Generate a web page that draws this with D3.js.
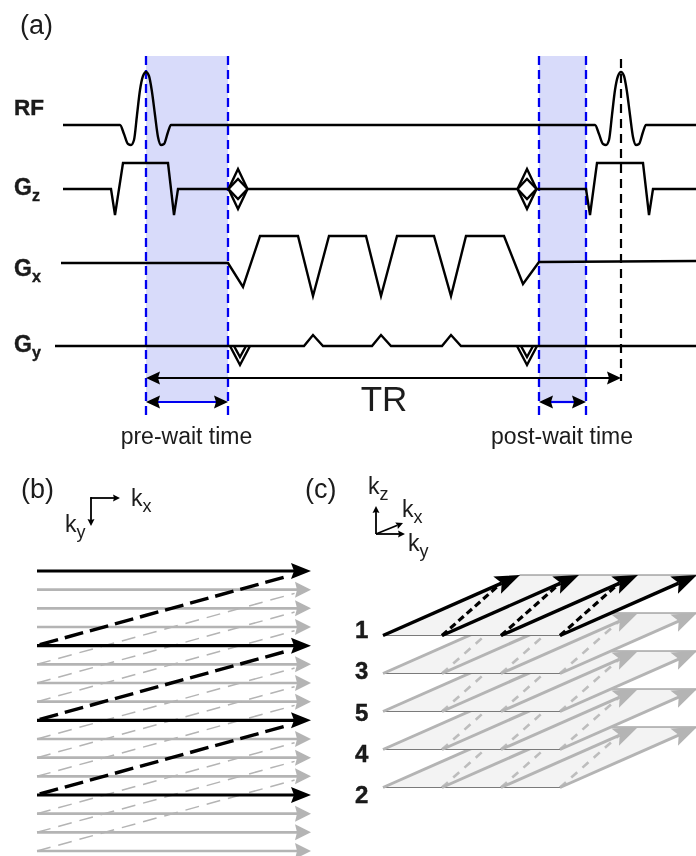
<!DOCTYPE html>
<html>
<head>
<meta charset="utf-8">
<script src="https://cdn.jsdelivr.net/npm/d3@7"></script>
<style>
  html, body { margin: 0; padding: 0; background: #fff; }
  text { font-family: "Liberation Sans", Arial, sans-serif; fill: #1a1a1a; }
</style>
</head>
<body>
<div id="chart"></div>
<script>
// --- Pulse sequence (a): time is counted from the first RF centre, amplitude upward from baseline
const channels = ["RF", "Gz", "Gx", "Gy"];
const rfCentres = [0, 475];
const rfShapeT = [-26, -22, -18, -15, -12, -9, -6, -3, 0, 3, 6, 9, 12, 15, 18, 22, 25];
const rfShapeA = [0, -9, -19, -20, -15, 10, 35, 49, 53, 49, 33, 10, -12, -20, -19, -7, 0];
const rfExtent = [-83, 550];

const gzT = [-83, -35, -31, -23, 22, 28, 32, 83];
const gzA = [0, 0, -26, 26, 26, -26, 0, 0];
const gzMidT = [102, 371];
const gzMidA = [0, 0];
const gzEndT = [391, 440, 444, 451, 497, 503, 507, 550];
const gzEndA = [0, 0, -26, 26, 26, -26, 0, 0];
const gzBlipCentres = [92, 381];
const gzBlipAmps = [20, 10];

const gxT = [-85, 82, 97, 114, 152, 167, 183, 220, 235, 251, 288, 305, 320, 358, 377, 393, 550];
const gxA = [0, 0, -24, 27, 27, -33, 27, 27, -33, 27, 27, -33, 27, 27, -21, 1, 2];

const gyT = [-91, 158, 167, 177, 226, 235, 245, 296, 305, 315, 550];
const gyA = [0, 0, 11, 0, 0, 11, 0, 0, 11, 0, 0];
const gyBlipCentres = [94, 381];
const gyBlipAmps = [-19, -11];

const waitWindows = [[0, 82], [393, 440]];
const waitLabels = ["pre-wait time", "post-wait time"];
const trRange = [0, 475];

// --- EPI readout (b)
const kyLines = [0, 1, 2, 3, 4, 5, 6, 7, 8, 9, 10, 11, 12, 13, 14, 15];
const shotStarts = [0, 4, 8, 12];
const returnFrom = [4, 5, 6, 7, 8, 9, 10, 11, 12, 13, 14, 15];
const returnStep = 4;

// --- Stack of slices (c)
const sliceOrder = [1, 3, 5, 4, 2];
const kyPositions = [0, 1, 2, 3];

const zip = (t, a) => t.map((v, i) => [v, a[i]]);
const black = "#000", gray = "#b4b4b4", blue = "#0000f0";

const svg = d3.select("#chart").append("svg")
  .attr("width", 696).attr("height", 856)
  .style("display", "block");

// the picture is a slightly soft scan, same softness here
svg.append("defs").append("filter").attr("id", "soft")
  .append("feGaussianBlur").attr("stdDeviation", 0.4);
const root = svg.append("g").attr("filter", "url(#soft)");

// scales
const x = d3.scaleLinear().domain([-146, 550]).range([0, 696]);
const baseline = d3.scaleOrdinal().domain(channels).range([125, 189, 263, 346]);
const line = ch => d3.line().x(d => x(d[0])).y(d => baseline(ch) - d[1]);

// arrow head with a small notch, tip at (x1,y1), pointing away from (x0,y0)
function head(g, x0, y0, x1, y1, len, hw, notch, color) {
  const a = Math.atan2(y1 - y0, x1 - x0), c = Math.cos(a), s = Math.sin(a);
  const p = (u, v) => [x1 + u * c - v * s, y1 + u * s + v * c];
  g.append("path")
    .attr("d", "M" + [p(0, 0), p(-len, hw), p(-len + notch, 0), p(-len, -hw)].join("L") + "Z")
    .attr("fill", color);
}

function arrow(g, x0, y0, x1, y1, width, color, len, hw, notch, headColor) {
  const a = Math.atan2(y1 - y0, x1 - x0);
  g.append("line")
    .attr("x1", x0).attr("y1", y0)
    .attr("x2", x1 - (len - notch) * Math.cos(a)).attr("y2", y1 - (len - notch) * Math.sin(a))
    .attr("stroke", color).attr("stroke-width", width);
  head(g, x0, y0, x1, y1, len, hw, notch, headColor || color);
}

function label(x0, y0, main, sub, size, subSize, weight) {
  const t = root.append("text").attr("x", x0).attr("y", y0)
    .attr("font-size", size).attr("font-weight", weight || "normal").text(main);
  if (weight) t.attr("stroke", "#1a1a1a").attr("stroke-width", 0.4);
  if (sub) t.append("tspan").attr("dy", size * 0.24).attr("font-size", subSize).text(sub);
  return t;
}

// ---------- panel (a)
const a = root.append("g");
const bandTop = 56, bandBottom = 402, dashBottom = 417;

waitWindows.forEach(w => {
  a.append("rect")
    .attr("x", x(w[0])).attr("y", bandTop)
    .attr("width", x(w[1]) - x(w[0])).attr("height", bandBottom - bandTop)
    .attr("fill", "#d8dbfa");
  w.forEach(t => {
    a.append("line")
      .attr("x1", x(t)).attr("x2", x(t)).attr("y1", bandTop).attr("y2", dashBottom)
      .attr("stroke", blue).attr("stroke-width", 2.3).attr("stroke-dasharray", "9 5");
  });
});

const traceStyle = s => s.attr("fill", "none").attr("stroke", black)
  .attr("stroke-width", 2.4).attr("stroke-linejoin", "miter");

// RF
const rfPts = [[rfExtent[0], 0]];
rfCentres.forEach(c => rfShapeT.forEach((t, i) => rfPts.push([c + t, rfShapeA[i]])));
rfPts.push([rfExtent[1], 0]);
a.append("path").attr("d", line("RF").curve(d3.curveMonotoneX)(rfPts)).call(traceStyle);

// Gz
[zip(gzT, gzA), zip(gzMidT, gzMidA), zip(gzEndT, gzEndA)].forEach(seg => {
  a.append("path").attr("d", line("Gz")(seg)).call(traceStyle);
});
gzBlipCentres.forEach(c => {
  gzBlipAmps.forEach(amp => {
    a.append("path")
      .attr("d", line("Gz")([[c - 9.5, 0], [c, amp], [c + 9.5, 0], [c, -amp], [c - 9.5, 0]]))
      .call(traceStyle);
  });
});

// Gx
a.append("path").attr("d", line("Gx")(zip(gxT, gxA))).call(traceStyle);

// Gy
a.append("path").attr("d", line("Gy")(zip(gyT, gyA))).call(traceStyle);
gyBlipCentres.forEach(c => {
  gyBlipAmps.forEach((amp, i) => {
    const hw = i === 0 ? 10 : 6;
    a.append("path")
      .attr("d", line("Gy")([[c - hw, 0], [c, amp], [c + hw, 0]]))
      .call(traceStyle);
  });
});

// next RF marker and TR arrow
a.append("line")
  .attr("x1", x(trRange[1])).attr("x2", x(trRange[1])).attr("y1", 59).attr("y2", 381)
  .attr("stroke", black).attr("stroke-width", 2.2).attr("stroke-dasharray", "9 6");

const trY = 378;
a.append("line").attr("x1", x(trRange[0]) + 8).attr("x2", x(trRange[1]) - 8)
  .attr("y1", trY).attr("y2", trY).attr("stroke", black).attr("stroke-width", 2.2);
head(a, x(trRange[1]), trY, x(trRange[0]), trY, 14, 6.5, 2, black);
head(a, x(trRange[0]), trY, x(trRange[1]), trY, 14, 6.5, 2, black);

waitWindows.forEach(w => {
  const y0 = 402;
  a.append("line").attr("x1", x(w[0]) + 8).attr("x2", x(w[1]) - 8)
    .attr("y1", y0).attr("y2", y0).attr("stroke", blue).attr("stroke-width", 2.2);
  head(a, x(w[1]), y0, x(w[0]), y0, 14, 6.5, 2, black);
  head(a, x(w[0]), y0, x(w[1]), y0, 14, 6.5, 2, black);
});

label(20, 34, "(a)", null, 27);
label(14, 115, "RF", null, 22.5, 0, "bold");
label(14, 195, "G", "z", 23, 16, "bold");
label(14, 276, "G", "x", 23, 16, "bold");
label(14, 352, "G", "y", 23, 16, "bold");

root.append("text").attr("x", 384).attr("y", 411).attr("text-anchor", "middle")
  .attr("font-size", 35).text("TR");
root.append("text").attr("x", 186.5).attr("y", 444).attr("text-anchor", "middle")
  .attr("font-size", 23).text(waitLabels[0]);
root.append("text").attr("x", 562).attr("y", 444).attr("text-anchor", "middle")
  .attr("font-size", 23).text(waitLabels[1]);

// ---------- panel (b)
const b = root.append("g");
label(21, 498, "(b)", null, 27);
arrow(b, 91, 498, 120, 498, 1.8, black, 7, 3.5, 1);
arrow(b, 91, 498, 91, 526, 1.8, black, 7, 3.5, 1);
b.append("line").attr("x1", 90.1).attr("x2", 92).attr("y1", 498).attr("y2", 498).attr("stroke", black).attr("stroke-width", 1.8);
label(131, 506, "k", "x", 23, 18);
label(65, 532, "k", "y", 23, 18);

const kx = d3.scaleLinear().domain([0, 1]).range([37, 311]);
const ky = d3.scaleLinear().domain([0, 15]).range([571, 851]);
const isStart = i => shotStarts.includes(i);

// grey lines first, black ones on top
const lineOrder = kyLines.slice().sort((p, q) => isStart(p) - isStart(q));
lineOrder.filter(i => !isStart(i)).forEach(i => {
  arrow(b, kx(0), ky(i), kx(1), ky(i), 2.6, gray, 16, 8, 2);
});
returnFrom.filter(i => !isStart(i)).forEach(i => {
  b.append("line")
    .attr("x1", kx(0)).attr("y1", ky(i))
    .attr("x2", kx(0.94)).attr("y2", ky(i - returnStep + 0.2))
    .attr("stroke", gray).attr("stroke-width", 1.5).attr("stroke-dasharray", "14 8");
});
lineOrder.filter(isStart).forEach(i => {
  arrow(b, kx(0), ky(i), kx(1), ky(i), 3.2, black, 20, 8, 3);
});
returnFrom.filter(isStart).forEach(i => {
  b.append("line")
    .attr("x1", kx(0.01)).attr("y1", ky(i) - 1)
    .attr("x2", kx(0.905)).attr("y2", ky(i - returnStep + 0.32))
    .attr("stroke", black).attr("stroke-width", 3.4).attr("stroke-dasharray", "19 7");
});

// ---------- panel (c)
const c = root.append("g");
label(305, 498, "(c)", null, 27);
arrow(c, 376, 534, 376, 506, 1.8, black, 7, 3.5, 1);
arrow(c, 376, 534, 405, 534, 1.8, black, 7, 3.5, 1);
arrow(c, 376, 534, 403, 523, 1.8, black, 7, 3.5, 1);
label(368, 494, "k", "z", 23, 18);
label(402, 517, "k", "x", 23, 18);
label(408, 551, "k", "y", 23, 18);

const sliceY = d3.scalePoint().domain(sliceOrder).range([635.5, 787.5]);
const sliceLabelY = d3.scalePoint().domain(sliceOrder).range([638, 803]);
const kyX = d3.scaleLinear().domain([0, 3]).range([383, 560]);
const kxDx = d3.scaleLinear().domain([0, 1]).range([0, 137]);
const kxDy = d3.scaleLinear().domain([0, 1]).range([0, -60.5]);

// paint from the lowest slice upward, each plane hides what is behind it
sliceOrder.slice().reverse().forEach(s => {
  const y0 = sliceY(s), top = s === 1;
  const col = top ? black : gray;
  const corner = (k, u) => [kyX(k) + kxDx(u), y0 + kxDy(u)];
  c.append("path")
    .attr("d", "M" + [corner(0, 0), corner(3, 0), corner(3, 1), corner(0, 1)].join("L") + "Z")
    .attr("fill", "#f3f3f3").attr("stroke", "#7a7a7a").attr("stroke-width", 1);
  kyPositions.slice(1).forEach(k => {
    const p = corner(k, 0), q = corner(k - 1, 0.86);
    c.append("line").attr("x1", p[0]).attr("y1", p[1]).attr("x2", q[0]).attr("y2", q[1])
      .attr("stroke", top ? black : "#bdbdbd").attr("stroke-width", top ? 3.2 : 2.6)
      .attr("stroke-dasharray", top ? "7 4" : "8 7");
  });
  kyPositions.forEach(k => {
    const p = corner(k, 0), q = corner(k, 1);
    arrow(c, p[0], p[1], q[0], q[1], top ? 3.4 : 3, col, 25, 9.5, 5);
  });
});

sliceOrder.forEach(s => {
  root.append("text").attr("x", 355).attr("y", sliceLabelY(s))
    .attr("font-size", 24).attr("font-weight", "bold").attr("fill", "#111")
    .attr("stroke", "#111").attr("stroke-width", 0.4).text(s);
});
</script>
</body>
</html>
